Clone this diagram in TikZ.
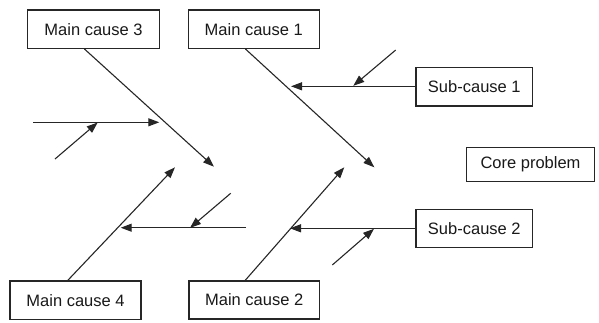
\documentclass[tikz,border=0pt]{standalone}
\usepackage{fontspec}
\setmainfont{Liberation Sans}
\usetikzlibrary{arrows.meta,calc}
\begin{document}
\begin{tikzpicture}[x=1pt,y=-1pt,
  box/.style={draw=black!85, line width=1.2pt, fill=white, inner sep=0pt,
    font=\fontsize{16.5}{19}\selectfont, text=black!90},
  conn/.style={draw=black!85, line width=1.1pt, -{Triangle[length=11pt,width=8pt]}}]
\useasboundingbox (0,0) rectangle (599,322);
% boxes
\node[box, minimum width=131.6pt, minimum height=38.3pt] (mc3) at (93.5,29.2) {Main cause 3};
\node[box, minimum width=131pt, minimum height=38.3pt] (mc1) at (253.8,29.2) {Main cause 1};
\node[box, minimum width=116.7pt, minimum height=38.3pt] (sc1) at (474.3,86.8) {Sub-cause 1};
\node[box, minimum width=127.6pt, minimum height=34pt] (core) at (530.5,164.7) {Core problem};
\node[box, minimum width=116.7pt, minimum height=38pt] (sc2) at (474.3,228.3) {Sub-cause 2};
\node[box, minimum width=131pt, minimum height=38.3pt] (mc4) at (75.5,300.2) {Main cause 4};
\node[box, minimum width=130.3pt, minimum height=38pt] (mc2) at (254.2,300) {Main cause 2};
% free ends
\coordinate (t3) at (214,166.7);
\coordinate (t1) at (374.3,167.3);
\coordinate (t4) at (175,167.3);
\coordinate (t2) at (344.3,167.3);
\coordinate (s1tip) at (291,86.3);
\coordinate (s1a) at (395.7,50);
\coordinate (s1b) at (353.3,85.8);
\coordinate (la) at (33,122.3);
\coordinate (lb) at (159.3,122.3);
\coordinate (lc) at (55,159);
\coordinate (ld) at (97.7,122.5);
\coordinate (ha) at (246,227.7);
\coordinate (hb) at (120.7,227.7);
\coordinate (hc) at (230.7,193.3);
\coordinate (hd) at (190,227.9);
\coordinate (s2tip) at (290,228.3);
\coordinate (s2a) at (332.3,265);
\coordinate (s2b) at (374,228.8);
% main bones
\draw[conn] ($(mc3.south west)+(57.3,0)$) -- (t3);
\draw[conn] ($(mc1.south west)+(57.7,0)$) -- (t1);
\draw[conn] ($(mc4.north west)+(58.3,0)$) -- (t4);
\draw[conn] ($(mc2.north west)+(56.7,0)$) -- (t2);
% sub-cause arrows
\draw[conn] (sc1.west |- s1tip) -- (s1tip);
\draw[conn] (s1a) -- (s1b);
\draw[conn] (la) -- (lb);
\draw[conn] (lc) -- (ld);
\draw[conn] (ha) -- (hb);
\draw[conn] (hc) -- (hd);
\draw[conn] (sc2.west) -- (s2tip);
\draw[conn] (s2a) -- (s2b);
\end{tikzpicture}
\end{document}
